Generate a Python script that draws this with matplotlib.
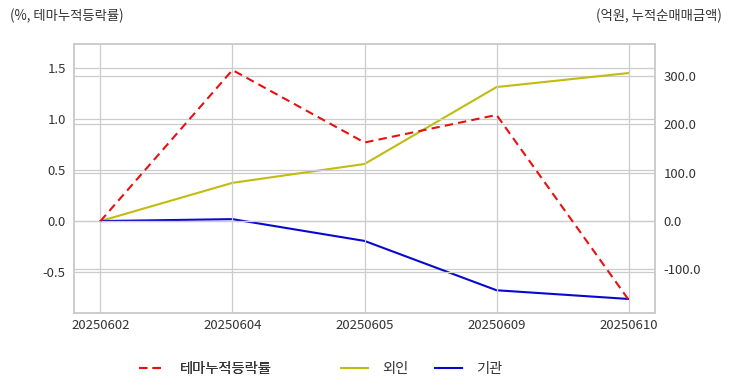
import matplotlib
matplotlib.use("Agg")
import matplotlib.pyplot as plt

plt.rcParams['font.family'] = ['Noto Sans CJK KR', 'DejaVu Sans']
plt.rcParams['axes.unicode_minus'] = False

dates = ["20250602", "20250604", "20250605", "20250609", "20250610"]
theme_rate = [0.0, 1.48, 0.77, 1.04, -0.77]
foreign = [0.0, 79.0, 118.0, 277.0, 306.0]
institution = [0.0, 4.0, -41.0, -143.0, -161.0]

grid_c = "#cccccc"
text_c = "#333333"

fig = plt.figure(figsize=(7.32, 3.92), dpi=100)
ax = fig.add_axes([74/732, 1-313/392, (655-74)/732, (313-44)/392])
ax2 = ax.twinx()

x = list(range(len(dates)))
l1, = ax.plot(x, theme_rate, color="#e81010", ls=(0, (4, 2.5)), lw=1.5, label="테마누적등락률")
l2, = ax2.plot(x, foreign, color="#c0bc10", lw=1.5, label="외인")
l3, = ax2.plot(x, institution, color="#0808d0", lw=1.5, label="기관")

ax.set_xlim(-0.2, 4.2)
ax.set_ylim(-0.9, 1.735)
ax2.set_ylim(-190, 366)
ax.set_xticks(x)
ax.set_xticklabels(dates)
ax.set_yticks([-0.5, 0.0, 0.5, 1.0, 1.5])
ax2.set_yticks([-100, 0, 100, 200, 300])
ax2.set_yticklabels(["-100.0", "0.0", "100.0", "200.0", "300.0"])

ax.grid(True, color=grid_c, lw=0.9)
ax2.grid(True, axis="y", color=grid_c, lw=0.9)
ax.set_axisbelow(True)
ax2.set_axisbelow(True)
ax.set_zorder(ax2.get_zorder() + 1)
ax.patch.set_visible(False)

for a in (ax, ax2):
    for s in a.spines.values():
        s.set_color(grid_c)
        s.set_linewidth(1.2)
    a.tick_params(length=0, labelsize=9.5, colors=text_c, pad=6)
ax.tick_params(axis="x", pad=4)

fig.text(10/732, 1-16/392, "(%, 테마누적등락률)", fontsize=9.6, color=text_c, va="center", ha="left")
fig.text(722/732, 1-16/392, "(억원, 누적순매매금액)", fontsize=9.6, color=text_c, va="center", ha="right")

# legend split in two so the spacing matches the reference
leg_kw = dict(frameon=False, fontsize=10.3, handlelength=1.9, handletextpad=0.95,
              borderpad=0, borderaxespad=0, labelcolor=text_c, loc="center left")
leg1 = fig.legend(handles=[l1], bbox_to_anchor=(139/732, 1-369/392), **leg_kw)
fig.add_artist(leg1)
fig.legend(handles=[l2, l3], bbox_to_anchor=(341/732, 1-369/392), ncol=2,
           columnspacing=1.9, **leg_kw)

fig.savefig("out.png", dpi=100)
